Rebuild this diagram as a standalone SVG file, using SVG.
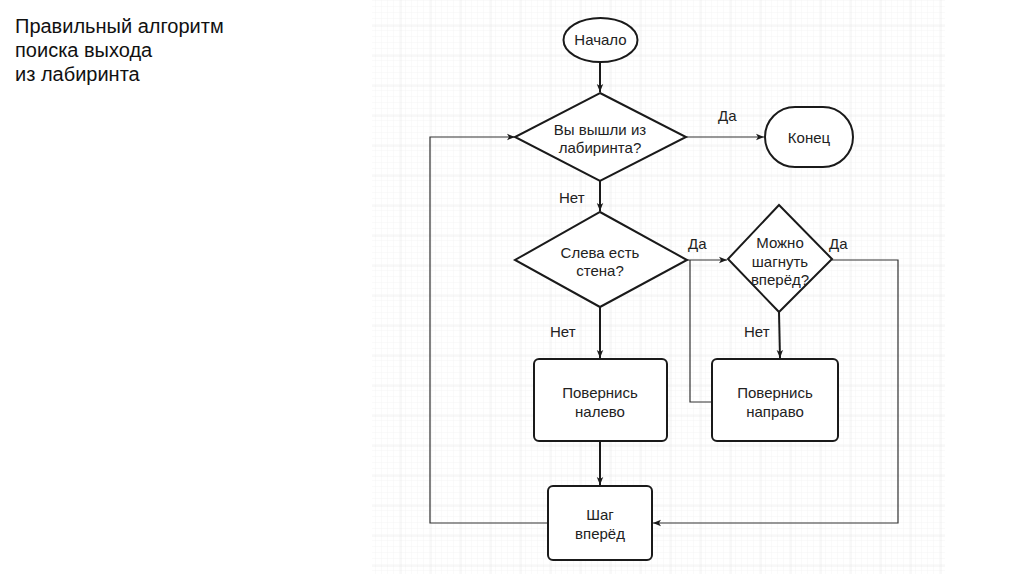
<svg xmlns="http://www.w3.org/2000/svg" width="1024" height="574" viewBox="0 0 1024 574">
<defs>
<pattern id="minor" x="10" y="25" width="6" height="6" patternUnits="userSpaceOnUse">
<path d="M6 0V6M0 6H6" fill="none" stroke="#f4f4f4" stroke-width="1"/>
</pattern>
<pattern id="major" x="10.5" y="25.5" width="30" height="30" patternUnits="userSpaceOnUse">
<path d="M0 0V30M0 0H30" fill="none" stroke="#e4e4e4" stroke-width="1"/>
</pattern>
<marker id="arr" viewBox="0 0 10 10" refX="10" refY="5" markerWidth="8" markerHeight="8" markerUnits="userSpaceOnUse" orient="auto">
<path d="M0 1L10 5L0 9L2.5 5Z" fill="#1a1a1a"/>
</marker>
<style>
.shape{fill:#fff;stroke:#1a1a1a;stroke-width:2}
.c{fill:none;stroke:#333;stroke-width:1.2}
.ct{fill:none;stroke:#1a1a1a;stroke-width:2}
text{font-family:"Liberation Sans",Arial,sans-serif;fill:#222}
.t{font-size:15px;text-anchor:middle}
.l{font-size:15px}
.title{font-size:20px;fill:#111}
</style>
</defs>
<rect width="1024" height="574" fill="#fff"/>
<rect x="372" y="0" width="573" height="574" fill="url(#minor)"/>
<rect x="372" y="0" width="573" height="574" fill="url(#major)"/>
<g id="title">
<text class="title" x="15" y="33">Правильный алгоритм</text>
<text class="title" x="15" y="57">поиска выхода</text>
<text class="title" x="15" y="81">из лабиринта</text>
</g>
<g id="connectors">
<line class="ct" x1="600" y1="62" x2="600" y2="92" marker-end="url(#arr)"/>
<line class="c" x1="686" y1="137" x2="764" y2="137" marker-end="url(#arr)"/>
<line class="ct" x1="600" y1="181" x2="600" y2="211" marker-end="url(#arr)"/>
<line class="c" x1="687" y1="260" x2="727" y2="260" marker-end="url(#arr)"/>
<polyline class="c" points="712,402 690,402 690,260"/>
<line class="ct" x1="779" y1="312" x2="780" y2="358" marker-end="url(#arr)"/>
<line class="ct" x1="600" y1="307" x2="600" y2="358" marker-end="url(#arr)"/>
<line class="ct" x1="600" y1="441" x2="600" y2="485" marker-end="url(#arr)"/>
<polyline class="c" points="548,523 430,523 430,137 515,137" marker-end="url(#arr)"/>
<polyline class="c" points="832,260 898,260 898,523 653,523" marker-end="url(#arr)"/>
</g>
<g id="labels">
<text class="l" x="718" y="121">Да</text>
<text class="l" x="559" y="203">Нет</text>
<text class="l" x="688" y="249">Да</text>
<text class="l" x="829" y="249">Да</text>
<text class="l" x="550" y="337">Нет</text>
<text class="l" x="744" y="337">Нет</text>
</g>
<g id="start">
<ellipse class="shape" cx="600.5" cy="40" rx="37" ry="22"/>
<text class="t" x="600.5" y="45">Начало</text>
</g>
<g id="exit-question">
<polygon class="shape" points="600,93 686,137 600,181 515,137"/>
<text class="t" x="600" y="135">Вы вышли из</text>
<text class="t" x="600" y="153">лабиринта?</text>
</g>
<g id="end">
<rect class="shape" x="765" y="107" width="88" height="60" rx="30" ry="30"/>
<text class="t" x="809" y="143">Конец</text>
</g>
<g id="wall-question">
<polygon class="shape" points="600,212 687,260 600,307 515,260"/>
<text class="t" x="600" y="258">Слева есть</text>
<text class="t" x="600" y="276">стена?</text>
</g>
<g id="forward-question">
<polygon class="shape" points="779,205 832,259 779,312 728,259"/>
<text class="t" x="780" y="248">Можно</text>
<text class="t" x="780" y="267">шагнуть</text>
<text class="t" x="780" y="285">вперёд?</text>
</g>
<g id="turn-left">
<rect class="shape" x="534" y="359" width="133" height="82" rx="5"/>
<text class="t" x="600" y="398">Повернись</text>
<text class="t" x="600" y="417">налево</text>
</g>
<g id="turn-right">
<rect class="shape" x="712" y="359" width="126" height="82" rx="5"/>
<text class="t" x="775" y="398">Повернись</text>
<text class="t" x="775" y="417">направо</text>
</g>
<g id="step">
<rect class="shape" x="548" y="486" width="104" height="74" rx="5"/>
<text class="t" x="600" y="520">Шаг</text>
<text class="t" x="600" y="539">вперёд</text>
</g>
</svg>
